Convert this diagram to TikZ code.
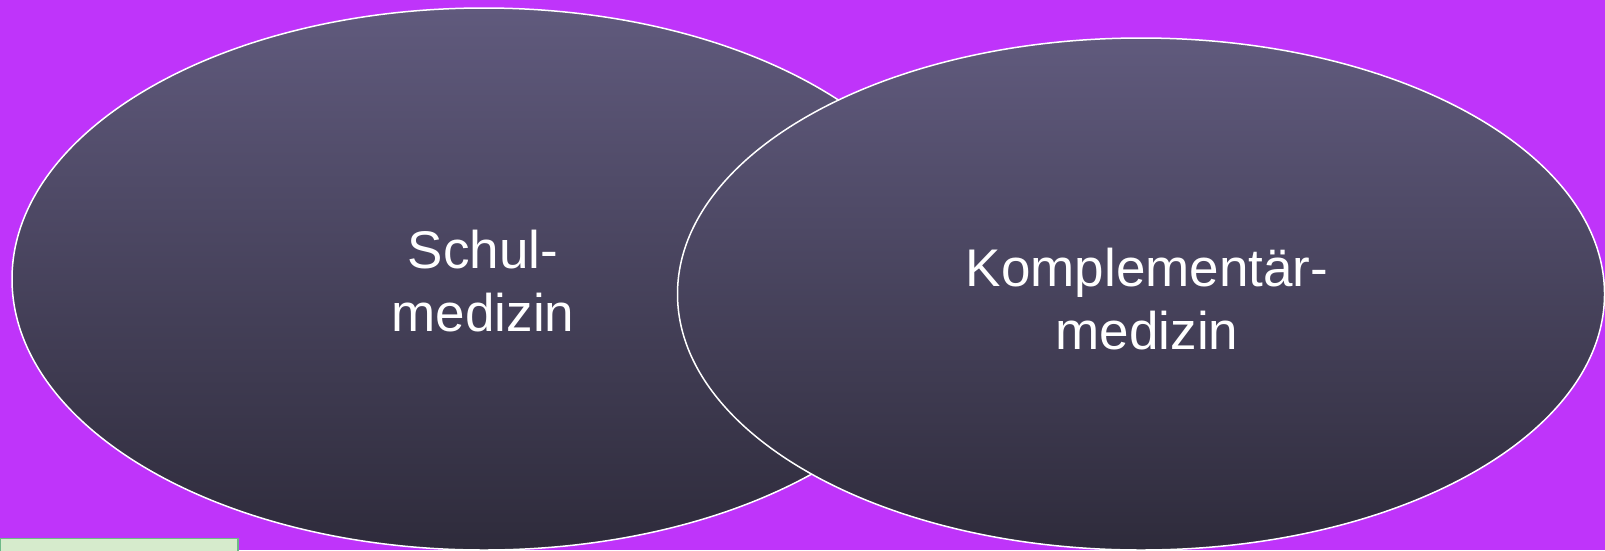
\documentclass[tikz,border=0pt]{standalone}
\usepackage{fontspec}
\setmainfont{Liberation Sans}
\usetikzlibrary{shapes.geometric}
\definecolor{bg}{RGB}{191,52,250}
\definecolor{ovtop}{RGB}{96,90,125}
\definecolor{ovbot}{RGB}{46,43,59}
\definecolor{boxfill}{RGB}{214,235,204}
\definecolor{boxline}{RGB}{110,185,135}
\begin{document}
\begin{tikzpicture}[x=1pt,y=-1pt,
  oval/.style={ellipse, draw=white, line width=1.5pt, top color=ovtop, bottom color=ovbot, inner sep=0pt},
  lbl/.style={text=white, font=\fontsize{53}{63}\selectfont, anchor=base, inner sep=0pt},
  tabbox/.style={draw=boxline, fill=boxfill, line width=1.5pt, inner sep=0pt}]
\fill[bg] (0,0) rectangle (1605,550);
\useasboundingbox (0,0) rectangle (1605,550);
\node[oval, minimum width=944pt, minimum height=542pt] (schul) at (484,279) {};
\node[oval, minimum width=927pt, minimum height=512pt] (komp) at (1141,294) {};
\node[lbl] (schulA) at (483,268) {Schul-};
\node[lbl] (schulB) at (483,331) {medizin};
\node[lbl] (kompA) at (1147,286) {Komplementär-};
\node[lbl] (kompB) at (1147,349) {medizin};
\node[tabbox, minimum width=238pt, minimum height=18pt, anchor=north west] (tab) at (-1,537.5) {};
\end{tikzpicture}
\end{document}
